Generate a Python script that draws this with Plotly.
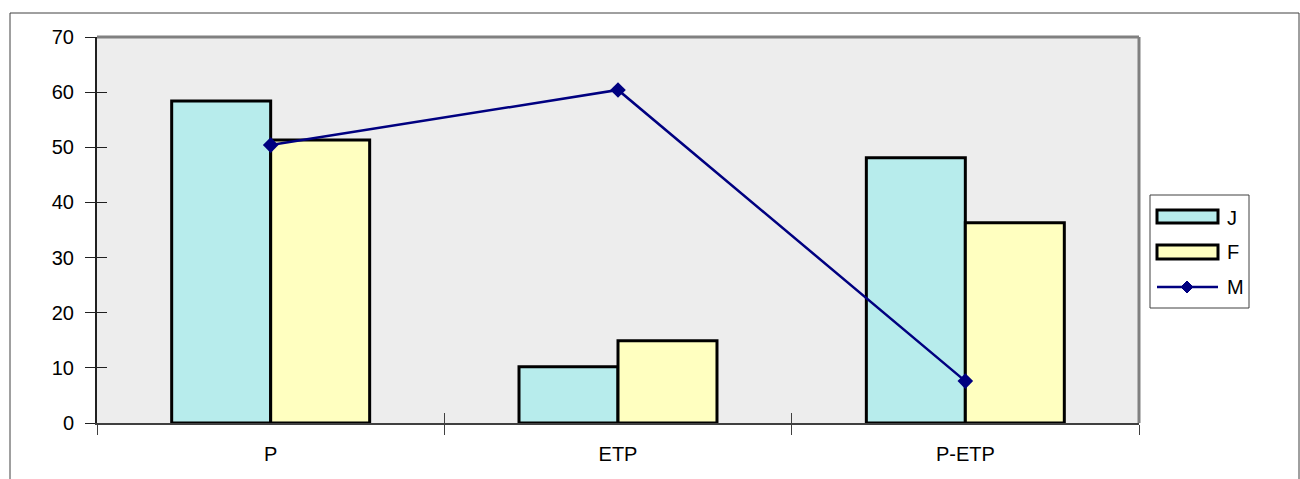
import plotly.graph_objects as go

# Data
categories = ["P", "ETP", "P-ETP"]
j_values = [58.4, 10.2, 48.1]
f_values = [51.3, 14.9, 36.3]
m_values = [50.4, 60.4, 7.6]
y_ticks = [0, 10, 20, 30, 40, 50, 60, 70]
series_names = ["J", "F", "M"]

FONT = "Liberation Sans, Arial, sans-serif"
J_COLOR = "#B7ECEC"
F_COLOR = "#FFFFC0"
M_COLOR = "#000080"

# plot area in pixels: left 97, right 1139, top 37, bottom 423
L, R, T, B = 97, 1139, 37, 423


def px(x):
    return (x - L) / (R - L)


def py(y):
    return (B - y) / (B - T)


fig = go.Figure()
fig.add_trace(go.Bar(
    name=series_names[0], x=categories, y=j_values,
    marker=dict(color=J_COLOR, line=dict(color="black", width=3)),
))
fig.add_trace(go.Bar(
    name=series_names[1], x=categories, y=f_values,
    marker=dict(color=F_COLOR, line=dict(color="black", width=3)),
))
fig.add_trace(go.Scatter(
    name=series_names[2], x=categories, y=m_values, mode="lines+markers",
    line=dict(color=M_COLOR, width=2.5),
    marker=dict(symbol="diamond", size=12, color=M_COLOR),
))
# overlay axes carrying the inward half of the crossing tick marks
fig.add_trace(go.Scatter(
    x=categories, y=m_values, xaxis="x2", yaxis="y2", mode="markers",
    marker=dict(opacity=0), showlegend=False, hoverinfo="skip",
))

shapes = [
    # grey top and right edges of the plot area
    dict(type="line", xref="paper", yref="paper", x0=0, x1=1, y0=1, y1=1,
         line=dict(color="#808080", width=3)),
    dict(type="line", xref="paper", yref="paper", x0=1, x1=1, y0=0, y1=1,
         line=dict(color="#808080", width=3)),
    # chart-area frame
    dict(type="rect", xref="paper", yref="paper",
         x0=px(10), x1=px(1299), y0=py(490), y1=py(13),
         line=dict(color="#404040", width=1), layer="below"),
    # legend box
    dict(type="rect", xref="paper", yref="paper",
         x0=px(1150), x1=px(1249), y0=py(308), y1=py(195),
         line=dict(color="#404040", width=1), fillcolor="white"),
    # legend swatches
    dict(type="rect", xref="paper", yref="paper",
         x0=px(1157), x1=px(1218), y0=py(223), y1=py(210),
         line=dict(color="black", width=3), fillcolor=J_COLOR),
    dict(type="rect", xref="paper", yref="paper",
         x0=px(1157), x1=px(1218), y0=py(259), y1=py(245),
         line=dict(color="black", width=3), fillcolor=F_COLOR),
    dict(type="line", xref="paper", yref="paper",
         x0=px(1157), x1=px(1218), y0=py(287), y1=py(287),
         line=dict(color=M_COLOR, width=2.5)),
    dict(type="path", xref="paper", yref="paper",
         path=(f"M {px(1187)},{py(281)} L {px(1193)},{py(287)} "
               f"L {px(1187)},{py(293)} L {px(1181)},{py(287)} Z"),
         line=dict(color=M_COLOR, width=1), fillcolor=M_COLOR),
]

annotations = [
    dict(text=name, xref="paper", yref="paper", x=px(1225), y=py(yc),
         xanchor="left", yanchor="middle", showarrow=False,
         font=dict(family=FONT, size=20, color="black"))
    for name, yc in zip(series_names, [218, 252, 287])
]

fig.update_layout(
    width=1300, height=479,
    margin=dict(l=L, r=1300 - R, t=T, b=479 - B),
    paper_bgcolor="white",
    plot_bgcolor="#EDEDED",
    barmode="group",
    bargap=0.43,
    bargroupgap=0,
    font=dict(family=FONT, size=20, color="black"),
    showlegend=False,
    xaxis=dict(
        type="category", range=[-0.5, 2.5],
        showline=True, linecolor="#404040", linewidth=2,
        ticks="outside", tickson="boundaries", ticklen=10,
        tickcolor="#404040", tickwidth=1, showgrid=False,
        tickfont=dict(family=FONT, size=20, color="black"),
        ticklabelstandoff=12,
    ),
    yaxis=dict(
        range=[0, 70], tickvals=y_ticks,
        showline=True, linecolor="#202020", linewidth=2,
        ticks="outside", ticklen=10, tickcolor="#202020", tickwidth=1,
        showgrid=False, zeroline=False,
        tickfont=dict(family=FONT, size=20, color="black"),
        ticklabelstandoff=7,
    ),
    xaxis2=dict(
        type="category", range=[-0.5, 2.5], overlaying="x",
        ticks="inside", tickson="boundaries", ticklen=10,
        tickcolor="#404040", tickwidth=1,
        showticklabels=False, showline=False, showgrid=False,
    ),
    yaxis2=dict(
        range=[0, 70], tickvals=y_ticks, overlaying="y",
        ticks="inside", ticklen=10, tickcolor="#202020", tickwidth=1,
        showticklabels=False, showline=False, showgrid=False, zeroline=False,
    ),
    shapes=shapes,
    annotations=annotations,
)

fig.write_html("out.html")
